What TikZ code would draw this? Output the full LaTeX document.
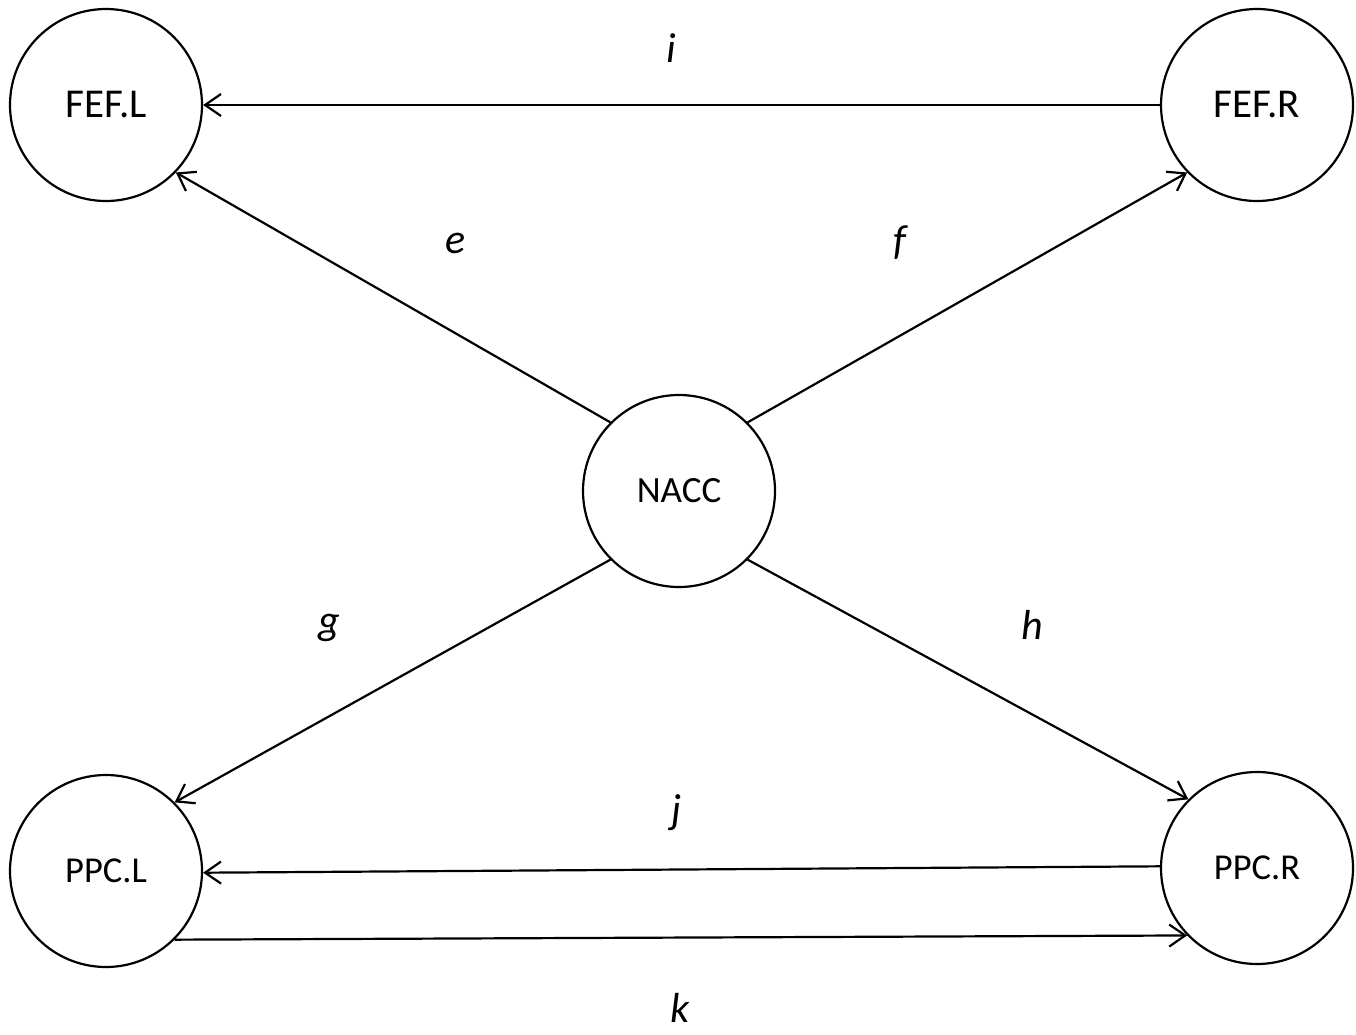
\documentclass[tikz,border=0pt]{standalone}
\usepackage{fontspec}
\setmainfont{Carlito}
\usetikzlibrary{arrows.meta}
\begin{document}
\begin{tikzpicture}[x=1pt,y=-1pt,
  region/.style={circle,draw,line width=2.2pt,minimum size=192pt,inner sep=0pt,font=\fontsize{37}{40}\selectfont},
  conn/.style={line width=2.2pt,-{Straight Barb[length=16pt,width=22pt,line width=2.2pt]}},
  lbl/.style={font=\fontsize{42}{46}\selectfont\itshape}]
\useasboundingbox (0,0) rectangle (1356,1034);
\node[region,font=\fontsize{41}{44}\selectfont] (fefl) at (106,105) {FEF.L};
\node[region,font=\fontsize{41}{44}\selectfont] (fefr) at (1257,105) {FEF.R};
\node[region] (nacc) at (679,491) {NACC};
\node[region,font=\fontsize{36.5}{40}\selectfont] (ppcl) at (106,871) {PPC.L};
\node[region,font=\fontsize{36.5}{40}\selectfont] (ppcr) at (1257,868) {PPC.R};
\draw[conn] (fefr.west) -- (fefl.east);
\draw[conn] (nacc.135) -- (fefl.-44);
\draw[conn] (nacc.45) -- (fefr.224);
\draw[conn] (nacc.225) -- (ppcl.45);
\draw[conn] (nacc.-45) -- (ppcr.135);
\draw[conn] (ppcr.179) -- (ppcl.-1);
\draw[conn] (ppcl.-45) -- (ppcr.224);
\node[lbl] (li) at (671,48) {i};
\node[lbl] (le) at (456,243) {e};
\node[lbl] (lf) at (900,243) {f};
\node[lbl] (lg) at (329,628) {g};
\node[lbl] (lh) at (1032,625) {h};
\node[lbl] (lj) at (677,813) {j};
\node[lbl] (lk) at (680,1008) {k};
\end{tikzpicture}
\end{document}
